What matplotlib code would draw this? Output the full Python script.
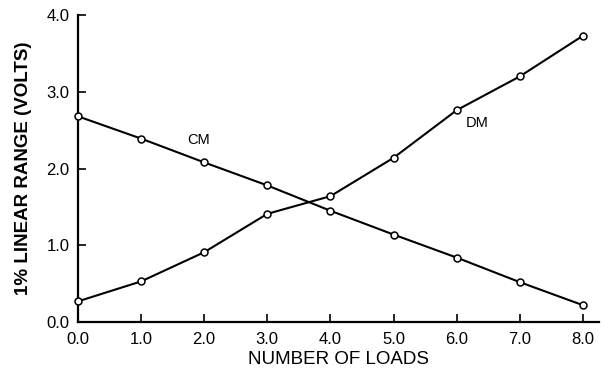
import matplotlib
matplotlib.use("Agg")
import matplotlib.pyplot as plt

loads = [0, 1, 2, 3, 4, 5, 6, 7, 8]
cm_values = [2.68, 2.39, 2.08, 1.78, 1.45, 1.14, 0.84, 0.52, 0.22]
dm_values = [0.27, 0.53, 0.91, 1.41, 1.64, 2.14, 2.76, 3.20, 3.73]
x_ticks = [0, 1, 2, 3, 4, 5, 6, 7, 8]
y_ticks = [0, 1, 2, 3, 4]

plt.rcParams['font.family'] = ['Liberation Sans', 'DejaVu Sans']

fig = plt.figure(figsize=(6.08, 3.72), dpi=100)
ax = fig.add_axes([0.128, 0.134, 0.857, 0.826])

for vals in (cm_values, dm_values):
    ax.plot(loads, vals, color='black', lw=1.5, marker='o', ms=5,
            mfc='white', mec='black', mew=1.1, zorder=3, clip_on=False)

ax.text(1.92, 2.37, 'CM', fontsize=10.5, ha='center', va='center')
ax.text(6.32, 2.59, 'DM', fontsize=10.5, ha='center', va='center')

ax.set_xlim(0, 8.25)
ax.set_ylim(0, 4.0)
ax.set_xticks(x_ticks)
ax.set_xticklabels([f"{v:.1f}" for v in x_ticks])
ax.set_yticks(y_ticks)
ax.set_yticklabels([f"{v:.1f}" for v in y_ticks])
for s in ('top', 'right'):
    ax.spines[s].set_visible(False)
for s in ('left', 'bottom'):
    ax.spines[s].set_linewidth(1.6)
ax.tick_params(direction='in', length=6, width=1.2, labelsize=12, pad=7)
ax.tick_params(axis='y', pad=6)
ax.set_xlabel('NUMBER OF LOADS', fontsize=13.5, labelpad=3)
ax.set_ylabel('1% LINEAR RANGE (VOLTS)', fontsize=13.5, fontweight='bold', labelpad=10)

fig.savefig('out.png', dpi=100)
